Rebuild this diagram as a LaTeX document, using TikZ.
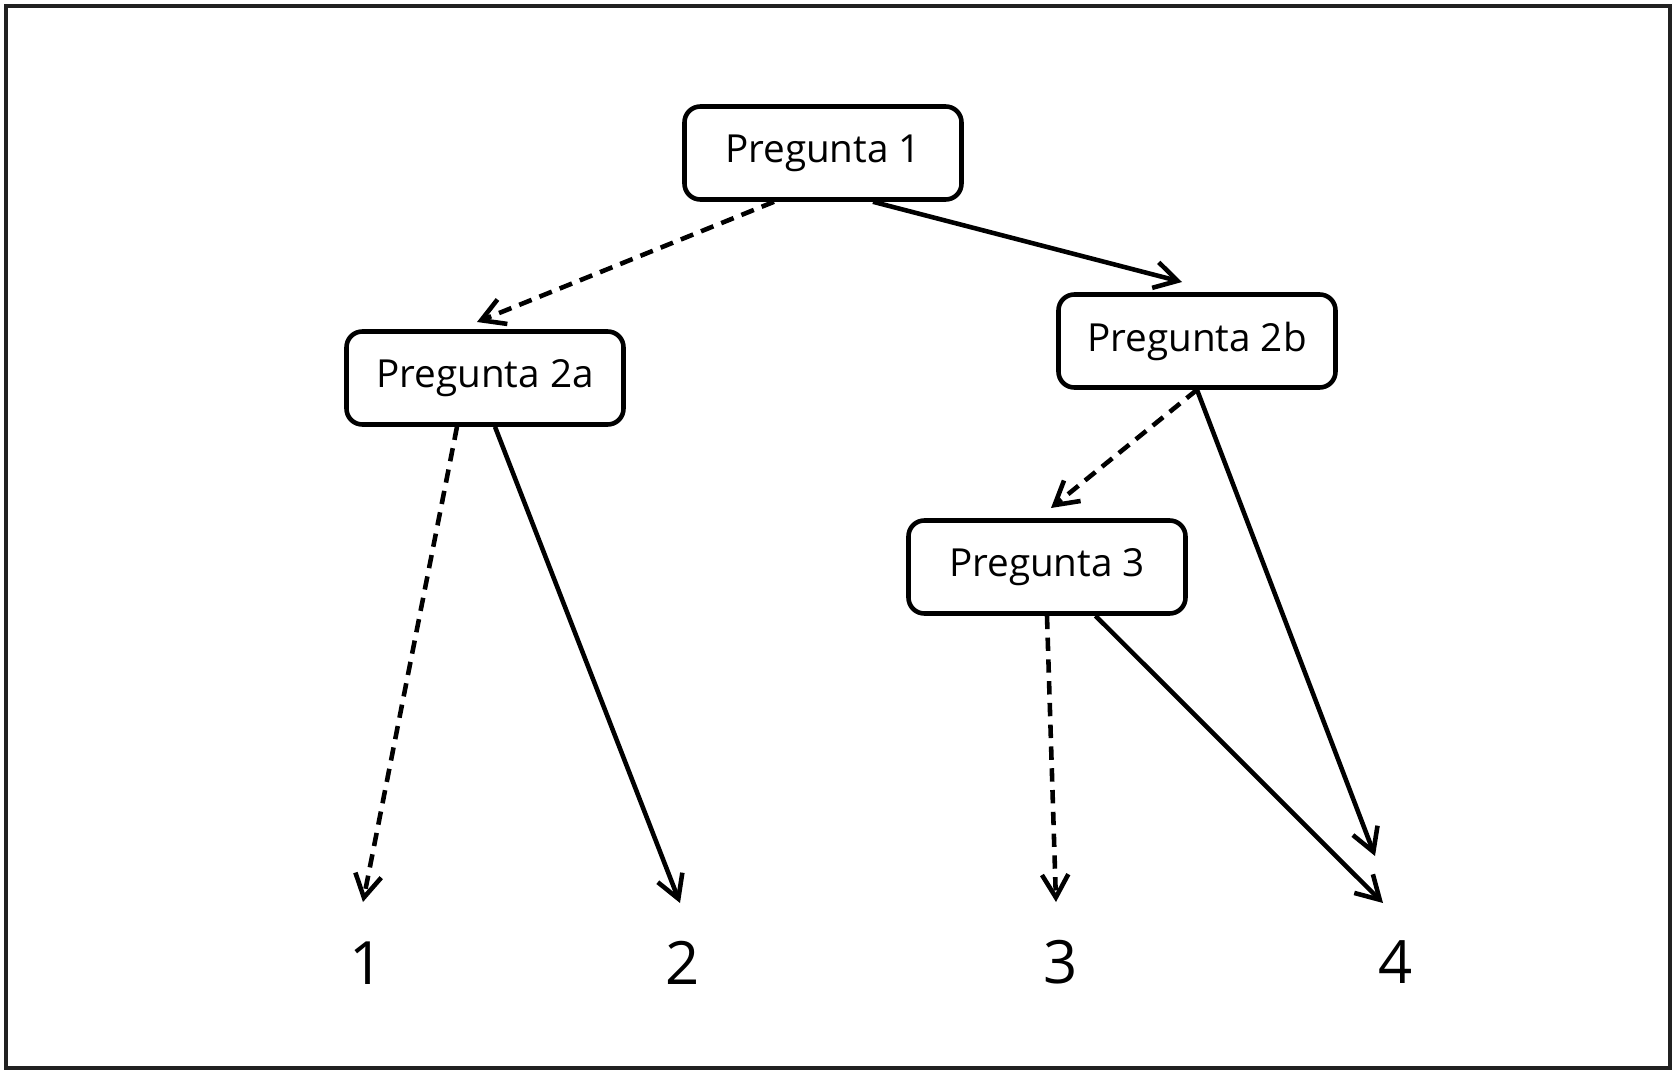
\documentclass[tikz,border=0pt]{standalone}
\usepackage{fontspec}
\setmainfont{Open Sans}
\usetikzlibrary{
    arrows.meta
}

\begin{document}
\begin{tikzpicture}[->,>={Straight Barb[length=6.5pt,width=7.5pt]},line width=1.3pt]
    \tikzstyle{pregunta}=[draw, rounded corners=4.5pt, minimum width=2.77cm, minimum height=0.93cm, font=\fontsize{11}{13}\selectfont]
    \tikzstyle{resultado}=[font=\fontsize{17}{20}\selectfont]
    \tikzstyle{negativa}=[dash pattern=on 3.8pt off 2.4pt]

    \useasboundingbox (0,0) rectangle (16.76,-10.74);
    \draw[-, black!87, line width=1.3pt] (0.06,-0.06) rectangle (16.70,-10.68);

    \node[pregunta] (P1) at (8.23,-1.53) {Pregunta 1};
    \node[pregunta] (P2a) at (4.85,-3.78) {Pregunta 2a};
    \node[pregunta] (P2b) at (11.97,-3.41) {Pregunta 2b};
    \node[pregunta] (P3) at (10.47,-5.67) {Pregunta 3};

    \node[resultado] (R1) at (3.67,-9.63) {1};
    \node[resultado] (R2) at (6.83,-9.63) {2};
    \node[resultado] (R3) at (10.61,-9.62) {3};
    \node[resultado] (R4) at (13.96,-9.62) {4};

    % puntas de las flechas
    \coordinate (E2a) at (4.77,-3.22);
    \coordinate (E2b) at (11.82,-2.82);
    \coordinate (E3) at (10.51,-5.08);
    \coordinate (E1) at (3.63,-9.02);
    \coordinate (E2) at (6.80,-9.03);
    \coordinate (E3r) at (10.56,-9.02);
    \coordinate (E4a) at (13.75,-8.56);
    \coordinate (E4b) at (13.83,-9.03);

    \path ([xshift=-4.9mm]P1.south) edge[negativa] (E2a);
    \path ([xshift=5mm]P1.south) edge (E2b);
    \path ([xshift=-2.8mm]P2a.south) edge[negativa] (E1);
    \path ([xshift=1mm]P2a.south) edge (E2);
    \path (P2b.south) edge[negativa] (E3);
    \path (P2b.south) edge (E4a);
    \path (P3.south) edge[negativa] (E3r);
    \path ([xshift=4.85mm]P3.south) edge (E4b);
\end{tikzpicture}
\end{document}
